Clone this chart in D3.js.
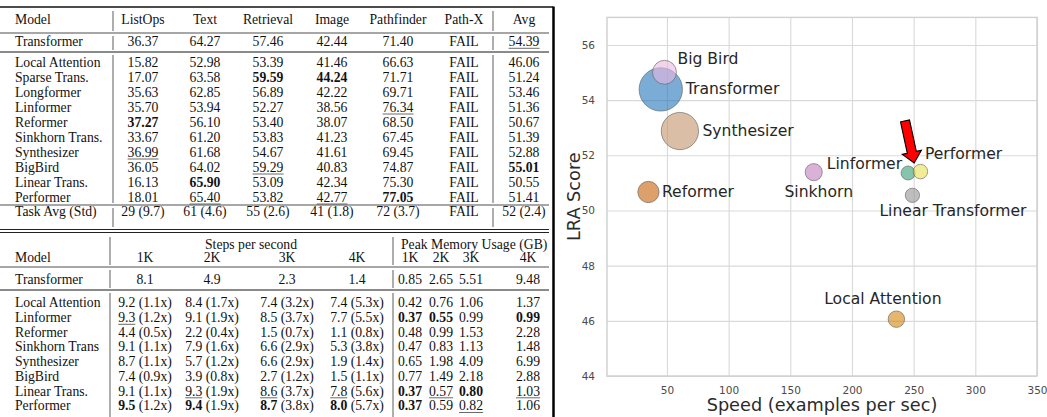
<!DOCTYPE html>
<html>
<head>
<meta charset="utf-8">
<script src="https://cdn.jsdelivr.net/npm/d3@7"></script>
<style>
  html, body { margin: 0; padding: 0; background: #ffffff; }
  svg { display: block; }
</style>
</head>
<body>
<script>
// ---------------- DATA: top table (LRA accuracy) ----------------
const topHeaders = ["ListOps", "Text", "Retrieval", "Image", "Pathfinder", "Path-X", "Avg"];
const topModels = ["Transformer", "Local Attention", "Sparse Trans.", "Longformer", "Linformer", "Reformer",
                   "Sinkhorn Trans.", "Synthesizer", "BigBird", "Linear Trans.", "Performer"];
const listOps    = [36.37, 15.82, 17.07, 35.63, 35.70, 37.27, 33.67, 36.99, 36.05, 16.13, 18.01];
const textScore  = [64.27, 52.98, 63.58, 62.85, 53.94, 56.10, 61.20, 61.68, 64.02, 65.90, 65.40];
const retrieval  = [57.46, 53.39, 59.59, 56.89, 52.27, 53.40, 53.83, 54.67, 59.29, 53.09, 53.82];
const imageScore = [42.44, 41.46, 44.24, 42.22, 38.56, 38.07, 41.23, 41.61, 40.83, 42.34, 42.77];
const pathfinder = [71.40, 66.63, 71.71, 69.71, 76.34, 68.50, 67.45, 69.45, 74.87, 75.30, 77.05];
const pathX      = ["FAIL", "FAIL", "FAIL", "FAIL", "FAIL", "FAIL", "FAIL", "FAIL", "FAIL", "FAIL", "FAIL"];
const avgScore   = [54.39, 46.06, 51.24, 53.46, 51.36, 50.67, 51.39, 52.88, 55.01, 50.55, 51.41];
const taskAvgLabel = "Task Avg (Std)";
const taskAvg    = ["29 (9.7)", "61 (4.6)", "55 (2.6)", "41 (1.8)", "72 (3.7)", "FAIL", "52 (2.4)"];
// row index of best (bold) and second best (underlined) per column, -1 = none
const topBest    = [5, 9, 2, 2, 10, -1, 8];
const topSecond  = [7, 10, 8, 10, 4, -1, 0];

// ---------------- DATA: bottom table (speed / memory) ----------------
const stepsTitle = "Steps per second";
const memTitle = "Peak Memory Usage (GB)";
const lengthLabels = ["1K", "2K", "3K", "4K"];
const speedModels = ["Transformer", "Local Attention", "Linformer", "Reformer", "Sinkhorn Trans",
                     "Synthesizer", "BigBird", "Linear Trans.", "Performer"];
const steps1k = [8.1, 9.2, 9.3, 4.4, 9.1, 8.7, 7.4, 9.1, 9.5];
const steps2k = [4.9, 8.4, 9.1, 2.2, 7.9, 5.7, 3.9, 9.3, 9.4];
const steps3k = [2.3, 7.4, 8.5, 1.5, 6.6, 6.6, 2.7, 8.6, 8.7];
const steps4k = [1.4, 7.4, 7.7, 1.1, 5.3, 1.9, 1.5, 7.8, 8.0];
const speedup1k = ["", "1.1x", "1.2x", "0.5x", "1.1x", "1.1x", "0.9x", "1.1x", "1.2x"];
const speedup2k = ["", "1.7x", "1.9x", "0.4x", "1.6x", "1.2x", "0.8x", "1.9x", "1.9x"];
const speedup3k = ["", "3.2x", "3.7x", "0.7x", "2.9x", "2.9x", "1.2x", "3.7x", "3.8x"];
const speedup4k = ["", "5.3x", "5.5x", "0.8x", "3.8x", "1.4x", "1.1x", "5.6x", "5.7x"];
const mem1k = [0.85, 0.42, 0.37, 0.48, 0.47, 0.65, 0.77, 0.37, 0.37];
const mem2k = [2.65, 0.76, 0.55, 0.99, 0.83, 1.98, 1.49, 0.57, 0.59];
const mem3k = [5.51, 1.06, 0.99, 1.53, 1.13, 4.09, 2.18, 0.80, 0.82];
const mem4k = [9.48, 1.37, 0.99, 2.28, 1.48, 6.99, 2.88, 1.03, 1.06];
const stepsBest   = [[8], [8], [8], [8]];
const stepsSecond = [[2], [7], [7], [7]];
const memBest     = [[2, 7, 8], [2], [7], [2]];
const memSecond   = [[], [7], [8], [7]];

// ---------------- DATA: bubble chart ----------------
const chartModels = ["Transformer", "Big Bird", "Synthesizer", "Reformer", "Sinkhorn",
                     "Linformer", "Performer", "Linear Transformer", "Local Attention"];
const chartSpeed  = [45, 48, 60.5, 35, 169, 245.5, 255.5, 249, 236];
const chartScore  = [54.39, 55.01, 52.88, 50.67, 51.39, 51.36, 51.41, 50.55, 46.06];
const chartMemory = [9.48, 2.88, 6.99, 2.28, 1.48, 0.99, 1.06, 1.03, 1.37];
const xTicks = [50, 100, 150, 200, 250, 300, 350];
const yTicks = [44, 46, 48, 50, 52, 54, 56];
const xTitle = "Speed (examples per sec)";
const yTitle = "LRA Score";
// arrow annotation (data coordinates: tail -> tip)
const arrowTail = [243.0, 53.25];
const arrowTip  = [250.4, 51.72];

// ---------------- STYLE ----------------
const bubbleColors = ["#2175bb", "#e9b7df", "#c19369", "#c86108", "#c17fbe",
                      "#359d75", "#e9df50", "#939393", "#d2850d"];
// label placement relative to bubble centre: [anchor, dx, dy]
const labelPlacement = {
  "Transformer": ["start", 25, 4.5],
  "Big Bird": ["start", 13, -8.5],
  "Synthesizer": ["start", 22.5, 4.5],
  "Reformer": ["start", 13.5, 4.5],
  "Sinkhorn": ["middle", 5, 24.5],
  "Linformer": ["end", -6, -4],
  "Performer": ["start", 4.5, -12.5],
  "Linear Transformer": ["middle", 40.5, 21],
  "Local Attention": ["middle", -13.5, -15]
};

const W = 1047, H = 417;
const svg = d3.select("body").append("svg").attr("width", W).attr("height", H);
svg.append("rect").attr("width", W).attr("height", H).attr("fill", "#fff");

// ================= TABLES =================
const serif = "'Liberation Serif','Times New Roman',Times,serif";
const tbl = svg.append("g").attr("font-family", serif).attr("font-size", 13.7).attr("fill", "#111");

function hRule(y, x0, x1, color, width) {
  tbl.append("line").attr("x1", x0).attr("x2", x1).attr("y1", y).attr("y2", y)
     .attr("stroke", color).attr("stroke-width", width);
}
function vRule(x, y0, y1) {
  tbl.append("line").attr("x1", x).attr("x2", x).attr("y1", y0).attr("y2", y1)
     .attr("stroke", "#333").attr("stroke-width", 0.8);
}
function underlineText(node, y) {
  const b = node.getBBox();
  tbl.append("line").attr("x1", b.x).attr("x2", b.x + b.width)
     .attr("y1", y + 2.3).attr("y2", y + 2.3).attr("stroke", "#444").attr("stroke-width", 0.8);
}
function cell(x, y, str, opts = {}) {
  const t = tbl.append("text").attr("x", x).attr("y", y)
    .attr("text-anchor", opts.anchor || "middle")
    .attr("font-weight", opts.bold ? "bold" : "normal")
    .text(str);
  if (opts.underline) underlineText(t.node(), y);
  return t;
}

// ---- top table layout ----
const tableRight = 549;
const modelX = 15;
const topColX = [143, 205, 268, 332, 398, 464, 524];
const topHeaderY = 24, topTransY = 46, topBodyY0 = 66.7, topRowH = 15, topTaskY = 216;
const topCols = [listOps, textScore, retrieval, imageScore, pathfinder, pathX, avgScore];

hRule(7, 0, 553, "#111", 1.3);
hRule(33, 0, tableRight, "#222", 0.8);
hRule(52, 0, tableRight, "#8a8a8a", 2.2);
hRule(205, 0, tableRight, "#222", 0.8);
hRule(229.5, 0, tableRight, "#222", 1);
hRule(232.5, 0, tableRight, "#222", 1);

cell(modelX, topHeaderY, "Model", { anchor: "start" });
topHeaders.forEach((h, j) => cell(topColX[j], topHeaderY, h));

topModels.forEach((m, i) => {
  const y = i === 0 ? topTransY : topBodyY0 + (i - 1) * topRowH;
  cell(modelX, y, m, { anchor: "start" });
  topCols.forEach((col, j) => {
    const v = col[i];
    const s = typeof v === "number" ? v.toFixed(2) : v;
    cell(topColX[j], y, s, { bold: topBest[j] === i, underline: topSecond[j] === i });
  });
});
cell(modelX, topTaskY, taskAvgLabel, { anchor: "start" });
taskAvg.forEach((s, j) => cell(topColX[j], topTaskY, s));

[113, 493].forEach(x => {
  vRule(x, 11, 31); vRule(x, 36, 50); vRule(x, 55, 203); vRule(x, 208, 227);
});

// ---- bottom table layout ----
const stepsColX = [145, 212, 287, 357];
const memColX = [410, 441, 471, 528];
const botHead1Y = 249, botHead2Y = 262, botTransY = 283.5, botBodyY0 = 307.3, botRowH = 14.7;
const stepCols = [steps1k, steps2k, steps3k, steps4k];
const speedCols = [speedup1k, speedup2k, speedup3k, speedup4k];
const memCols = [mem1k, mem2k, mem3k, mem4k];

hRule(267, 0, tableRight, "#222", 0.8);
hRule(290, 0, tableRight, "#8a8a8a", 2.2);

cell(d3.mean([stepsColX[0], stepsColX[3]]), botHead1Y, stepsTitle);
cell(401, botHead1Y, memTitle, { anchor: "start" });
cell(modelX, botHead2Y, "Model", { anchor: "start" });
lengthLabels.forEach((l, j) => { cell(stepsColX[j], botHead2Y, l); cell(memColX[j], botHead2Y, l); });

speedModels.forEach((m, i) => {
  const y = i === 0 ? botTransY : botBodyY0 + (i - 1) * botRowH;
  cell(modelX, y, m, { anchor: "start" });
  stepCols.forEach((col, j) => {
    const num = col[i].toFixed(1);
    const sp = speedCols[j][i];
    const t = tbl.append("text").attr("x", stepsColX[j]).attr("y", y).attr("text-anchor", "middle");
    const n = t.append("tspan").attr("font-weight", stepsBest[j].includes(i) ? "bold" : "normal").text(num);
    if (sp) t.append("tspan").text(" (" + sp + ")");
    if (stepsSecond[j].includes(i)) {
      const x0 = t.node().getStartPositionOfChar(0).x;
      const w = n.node().getComputedTextLength();
      tbl.append("line").attr("x1", x0).attr("x2", x0 + w).attr("y1", y + 2.3).attr("y2", y + 2.3)
         .attr("stroke", "#444").attr("stroke-width", 0.8);
    }
  });
  memCols.forEach((col, j) => {
    cell(memColX[j], y, col[i].toFixed(2), { bold: memBest[j].includes(i), underline: memSecond[j].includes(i) });
  });
});

[110, 393].forEach(x => { vRule(x, 237, 265); vRule(x, 270, 288); vRule(x, 293, 417); });

// divider between table and chart
svg.append("line").attr("x1", 553.5).attr("x2", 553.5).attr("y1", 6.5).attr("y2", H)
   .attr("stroke", "#000").attr("stroke-width", 2.5);

// ================= BUBBLE CHART =================
const plotL = 607, plotR = 1037, plotT = 17.4, plotB = 376;
const x = d3.scaleLinear().domain([1.4, 350]).range([plotL, plotR]);
const y = d3.scaleLinear().domain([44, 57]).range([plotB, plotT]);
const r = d3.scaleSqrt().domain([0, d3.max(chartMemory)]).range([0, 21.7]);

const chart = svg.append("g").attr("font-family", "'DejaVu Sans', sans-serif");

const gx = chart.append("g").attr("transform", `translate(0,${plotB})`)
  .call(d3.axisBottom(x).tickValues(xTicks).tickSize(-(plotB - plotT)).tickPadding(10.5).tickFormat(d3.format("d")));
const gy = chart.append("g").attr("transform", `translate(${plotL},0)`)
  .call(d3.axisLeft(y).tickValues(yTicks).tickSize(-(plotR - plotL)).tickPadding(12).tickFormat(d3.format("d")));
[gx, gy].forEach(g => {
  g.select(".domain").remove();
  g.selectAll(".tick line").attr("stroke", "#d9d9d9").attr("stroke-width", 1.1);
  g.selectAll(".tick text").attr("fill", "#4a4a4a").attr("font-size", 10.5)
   .attr("font-family", "'DejaVu Sans', sans-serif");
});

chart.append("rect").attr("x", plotL).attr("y", plotT).attr("width", plotR - plotL).attr("height", plotB - plotT)
  .attr("fill", "none").attr("stroke", "#cfcfcf").attr("stroke-width", 1.4);

chart.append("text").attr("x", (plotL + plotR) / 2).attr("y", 411).attr("text-anchor", "middle")
  .attr("font-size", 17.7).attr("fill", "#2b2b2b").text(xTitle);
chart.append("text").attr("transform", `translate(580,${(plotT + plotB) / 2}) rotate(-90)`)
  .attr("text-anchor", "middle").attr("font-size", 17.7).attr("fill", "#2b2b2b").text(yTitle);

const idx = d3.range(chartModels.length);
chart.append("g").selectAll("circle").data(idx).join("circle")
  .attr("cx", i => x(chartSpeed[i])).attr("cy", i => y(chartScore[i])).attr("r", i => r(chartMemory[i]))
  .attr("fill", i => bubbleColors[i]).attr("fill-opacity", 0.6)
  .attr("stroke", "#555").attr("stroke-opacity", 0.55).attr("stroke-width", 1);

chart.append("g").selectAll("text").data(idx).join("text")
  .attr("x", i => x(chartSpeed[i]) + labelPlacement[chartModels[i]][1])
  .attr("y", i => y(chartScore[i]) + labelPlacement[chartModels[i]][2])
  .attr("text-anchor", i => labelPlacement[chartModels[i]][0])
  .attr("font-size", 15.6).attr("fill", "#262626")
  .text(i => chartModels[i]);

// red arrow
(function () {
  const x0 = x(arrowTail[0]), y0 = y(arrowTail[1]);
  const x1 = x(arrowTip[0]), y1 = y(arrowTip[1]);
  const dx = x1 - x0, dy = y1 - y0, L = Math.hypot(dx, dy);
  const ux = dx / L, uy = dy / L, px = -uy, py = ux;
  const shaftW = 4.6, headW = 9.8, headL = 11;
  const bx = x1 - ux * headL, by = y1 - uy * headL;
  const pts = [
    [x0 + px * shaftW, y0 + py * shaftW],
    [bx + px * shaftW, by + py * shaftW],
    [bx + px * headW, by + py * headW],
    [x1, y1],
    [bx - px * headW, by - py * headW],
    [bx - px * shaftW, by - py * shaftW],
    [x0 - px * shaftW, y0 - py * shaftW]
  ];
  chart.append("path").attr("d", d3.line()(pts) + "Z")
    .attr("fill", "#ff0000").attr("stroke", "#000").attr("stroke-width", 1.1).attr("stroke-linejoin", "miter");
})();
</script>
</body>
</html>
